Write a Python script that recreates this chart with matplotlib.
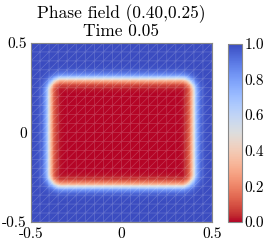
import numpy as np
import matplotlib
matplotlib.use("Agg")
import matplotlib.pyplot as plt
import matplotlib.tri as mtri

plt.rcParams['font.family'] = 'serif'
plt.rcParams['font.serif'] = ['cmr10', 'DejaVu Serif']
plt.rcParams['mathtext.fontset'] = 'cm'
plt.rcParams['axes.unicode_minus'] = False

# chart text / ticks
title = "Phase field (0.40,0.25)\nTime 0.05"
xticks = [-0.5, 0, 0.5]
xtick_labels = ["-0.5", "0", "0.5"]
yticks = [-0.5, 0, 0.5]
ytick_labels = ["-0.5", "0", "0.5"]
cbar_ticks = [0.0, 0.2, 0.4, 0.6, 0.8, 1.0]

# shape of the red (phi=0) region
half_w = 0.40      # half width of phi=0.5 contour
half_h = 0.30      # half height of phi=0.5 contour
corner_r = 0.07    # corner rounding
eps = 0.03         # interface thickness
n_mesh = 20        # coarse mesh cells per side

# fine grid for the field
n = 400
xs = np.linspace(-0.5, 0.5, n)
X, Y = np.meshgrid(xs, xs)
qx = np.abs(X) - (half_w - corner_r)
qy = np.abs(Y) - (half_h - corner_r)
dist = np.hypot(np.maximum(qx, 0), np.maximum(qy, 0)) + np.minimum(np.maximum(qx, qy), 0) - corner_r
phi = 0.5 * (1 + np.tanh(dist / eps))

fig = plt.figure(figsize=(2.66, 2.45), dpi=100)
ax = fig.add_axes([0.1165, 0.094, 0.6805, 0.7305])
cax = fig.add_axes([0.857, 0.094, 0.053, 0.727])

im = ax.pcolormesh(X, Y, phi, cmap='coolwarm_r', vmin=0, vmax=1, shading='auto', rasterized=True)

# coarse triangular mesh overlay
mx = np.linspace(-0.5, 0.5, n_mesh + 1)
MX, MY = np.meshgrid(mx, mx)
px, py = MX.ravel(), MY.ravel()
tris = []
for j in range(n_mesh):
    for i in range(n_mesh):
        a = j * (n_mesh + 1) + i
        b = a + 1
        c = a + (n_mesh + 1)
        d = c + 1
        tris.append([c, a, d])
        tris.append([a, b, d])
tri = mtri.Triangulation(px, py, tris)
ax.triplot(tri, color='white', lw=0.5, alpha=0.2)

ax.set_xlim(-0.5, 0.5)
ax.set_ylim(-0.5, 0.5)
ax.set_xticks(xticks)
ax.set_xticklabels(xtick_labels)
ax.set_yticks(yticks)
ax.set_yticklabels(ytick_labels)
ax.tick_params(length=0, labelsize=11)
ax.tick_params(axis='x', pad=4)
ax.tick_params(axis='y', pad=3)
for s in ax.spines.values():
    s.set_color('#888888')
ax.set_title(title, fontsize=12.5, linespacing=1.05, pad=5)

cb = fig.colorbar(im, cax=cax, ticks=cbar_ticks)
cb.ax.set_yticklabels(["%.1f" % t for t in cbar_ticks])
cb.ax.tick_params(length=0, labelsize=11, pad=2)
cb.outline.set_edgecolor('#888888')

fig.savefig('out.png', dpi=100)
